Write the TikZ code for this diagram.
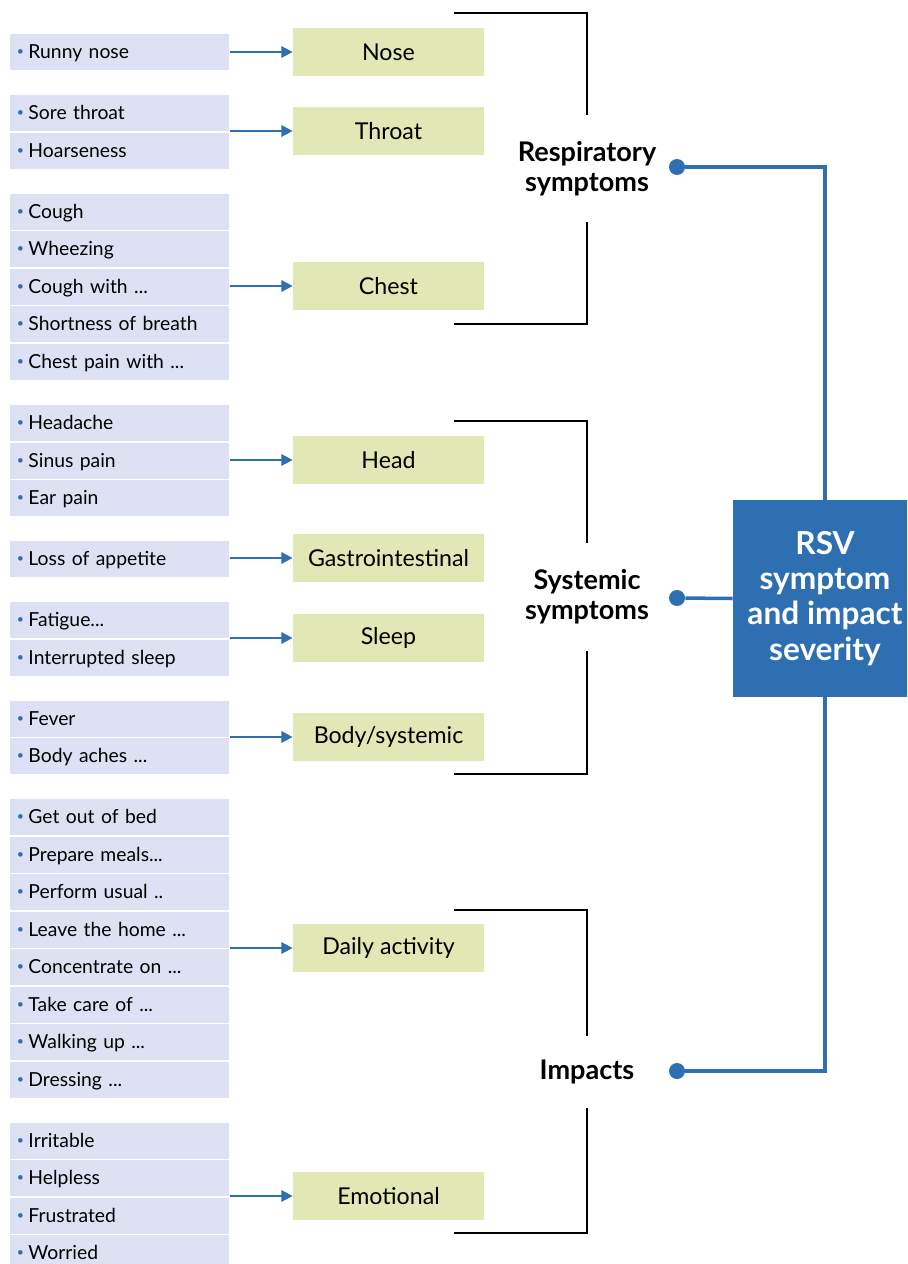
\documentclass[tikz,border=0pt]{standalone}
\usepackage{fontspec}
\setmainfont{Lato}
\usetikzlibrary{arrows.meta, positioning}

\definecolor{rsvblue}{HTML}{2E6FB1}
\definecolor{itemfill}{HTML}{DDE1F3}
\definecolor{catfill}{HTML}{E1E7B5}

\newcommand{\itm}{\raisebox{0.16em}{\textcolor{rsvblue}{\scriptsize\textbullet}}\hspace{0.09cm}}

\begin{document}
\begin{tikzpicture}[x=0.02cm, y=-0.02cm, >={Triangle[length=6.5pt,width=6.5pt]},
    item/.style={fill=itemfill, anchor=west, minimum width=4.38cm, minimum height=0.72cm,
        inner xsep=0.13cm, text width=4.12cm, align=left, text height=7.9pt, text depth=0pt,
        font=\fontsize{11}{12}\selectfont},
    cat/.style={fill=catfill, minimum width=3.82cm, minimum height=0.96cm,
        font=\fontsize{13.2}{15}\selectfont},
    grp/.style={font=\bfseries\fontsize{15.4}{17}\selectfont, align=center, inner sep=0pt},
    dot/.style={circle, fill=rsvblue, inner sep=0pt, minimum size=0.32cm},
    arr/.style={->, draw=rsvblue, fill=rsvblue, line width=1.4pt},
    brk/.style={draw=black, line width=1.1pt},
    bline/.style={draw=rsvblue, line width=2pt}]

    \path[use as bounding box, clip] (0,0) rectangle (907,1264);

    % Symptom lists (left column)
    \node[item] (i1)  at (10,52)   {\itm Runny nose};
    \node[item] (i2)  at (10,113)  {\itm Sore throat};
    \node[item] (i3)  at (10,151)  {\itm Hoarseness};
    \node[item] (i4)  at (10,212)  {\itm Cough};
    \node[item] (i5)  at (10,249)  {\itm Wheezing};
    \node[item] (i6)  at (10,287)  {\itm Cough with ...};
    \node[item] (i7)  at (10,324)  {\itm Shortness of breath};
    \node[item] (i8)  at (10,362)  {\itm Chest pain with ...};
    \node[item] (i9)  at (10,423)  {\itm Headache};
    \node[item] (i10) at (10,461)  {\itm Sinus pain};
    \node[item] (i11) at (10,498)  {\itm Ear pain};
    \node[item] (i12) at (10,559)  {\itm Loss of appetite};
    \node[item] (i13) at (10,620)  {\itm Fatigue...};
    \node[item] (i14) at (10,658)  {\itm Interrupted sleep};
    \node[item] (i15) at (10,719)  {\itm Fever};
    \node[item] (i16) at (10,756)  {\itm Body aches ...};
    \node[item] (i17) at (10,817)  {\itm Get out of bed};
    \node[item] (i18) at (10,855)  {\itm Prepare meals...};
    \node[item] (i19) at (10,892)  {\itm Perform usual ..};
    \node[item] (i20) at (10,930)  {\itm Leave the home ...};
    \node[item] (i21) at (10,967)  {\itm Concentrate on ...};
    \node[item] (i22) at (10,1005) {\itm Take care of ...};
    \node[item] (i23) at (10,1042) {\itm Walking up ...};
    \node[item] (i24) at (10,1080) {\itm Dressing ...};
    \node[item] (i25) at (10,1141) {\itm Irritable};
    \node[item] (i26) at (10,1178) {\itm Helpless};
    \node[item] (i27) at (10,1216) {\itm Frustrated};
    \node[item] (i28) at (10,1253) {\itm Worried};

    % Categories
    \node[cat] (nose)  at (388.5,52)   {Nose};
    \node[cat] (thr)   at (388.5,131)  {Throat};
    \node[cat] (chest) at (388.5,286)  {Chest};
    \node[cat] (head)  at (388.5,460)  {Head};
    \node[cat] (gast)  at (388.5,558)  {Gastrointestinal};
    \node[cat] (sleep) at (388.5,638)  {Sleep};
    \node[cat] (body)  at (388.5,737)  {Body/systemic};
    \node[cat] (daily) at (388.5,948)  {Daily activity};
    \node[cat] (emo)   at (388.5,1196) {Emotional};

    % Arrows from lists to categories
    \draw[arr] (nose -| i1.east)  -- (nose.west);
    \draw[arr] (thr -| i2.east)   -- (thr.west);
    \draw[arr] (chest -| i6.east) -- (chest.west);
    \draw[arr] (head -| i10.east) -- (head.west);
    \draw[arr] (gast -| i12.east) -- (gast.west);
    \draw[arr] (sleep -| i13.east) -- (sleep.west);
    \draw[arr] (body -| i15.east) -- (body.west);
    \draw[arr] (daily -| i20.east) -- (daily.west);
    \draw[arr] (emo -| i26.east)  -- (emo.west);

    % Group labels and brackets
    \node[grp, minimum height=2.14cm] (resp) at (587,168.5) {Respiratory\\symptoms};
    \node[grp, minimum height=2.16cm] (sys)  at (587,597)   {Systemic\\symptoms};
    \node[grp, minimum height=1.44cm] (imp)  at (587,1072)  {Impacts};

    \coordinate (rt) at (454,13);
    \coordinate (rb) at (454,324);
    \coordinate (st) at (454,421);
    \coordinate (sb) at (454,774);
    \coordinate (it) at (454,910);
    \coordinate (ib) at (454,1233);

    \draw[brk] (rt) -| (resp.north);
    \draw[brk] (rb) -| (resp.south);
    \draw[brk] (st) -| (sys.north);
    \draw[brk] (sb) -| (sys.south);
    \draw[brk] (it) -| (imp.north);
    \draw[brk] (ib) -| (imp.south);

    % Severity box and blue connectors
    \node[fill=rsvblue, text=white, minimum width=3.68cm, minimum height=3.94cm,
        align=center, font=\bfseries\fontsize{18}{20}\selectfont]
        (rsv) at (825,598.5) {RSV\\symptom\\and impact\\severity};

    \node[dot] (rdot) at (677,167)  {};
    \node[dot] (sdot) at (677,598)  {};
    \node[dot] (idot) at (677,1071) {};

    \draw[bline] (rdot) -| (rsv.north);
    \draw[bline] (sdot) -- (rsv.west);
    \draw[bline] (idot) -| (rsv.south);

\end{tikzpicture}
\end{document}
